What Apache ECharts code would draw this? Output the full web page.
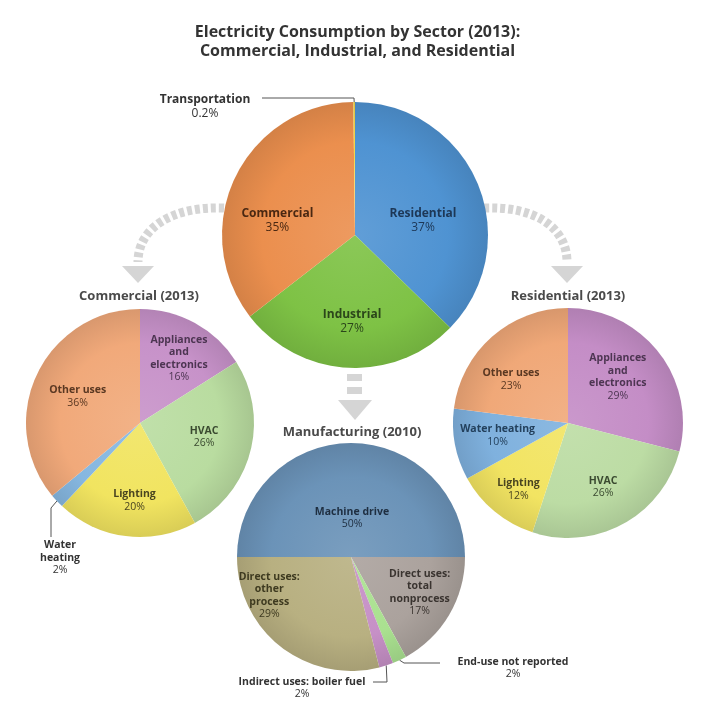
<!DOCTYPE html>
<html><head><meta charset="utf-8">
<script src="https://cdn.jsdelivr.net/npm/echarts@6/dist/echarts.min.js"></script>
<style>html,body{margin:0;padding:0;background:#fff}#c{width:715px;height:714px}</style>
</head><body><div id="c"></div>
<script>
// ---------------- data ----------------
const titleText = 'Electricity Consumption by Sector (2013):\nCommercial, Industrial, and Residential';
const mainNames = ['Residential', 'Industrial', 'Commercial', 'Transportation'];
const mainValues = [37, 27, 35, 0.2];
const comTitle = 'Commercial (2013)';
const comNames = ['Appliances\nand\nelectronics', 'HVAC', 'Lighting', 'Water\nheating', 'Other uses'];
const comValues = [16, 26, 20, 2, 36];
const resTitle = 'Residential (2013)';
const resNames = ['Appliances\nand\nelectronics', 'HVAC', 'Lighting', 'Water heating', 'Other uses'];
const resValues = [29, 26, 12, 10, 23];
const mfgTitle = 'Manufacturing (2010)';
const mfgNames = ['Machine drive', 'Direct uses:\ntotal\nnonprocess', 'End-use not reported', 'Indirect uses: boiler fuel', 'Direct uses:\nother\nprocess'];
const mfgValues = [50, 17, 2, 2, 29];

// ---------------- styles ----------------
const FONT = '"Open Sans", Lato, sans-serif';
const mainColors = ['#4f93d2', '#7ec245', '#eb8f4e', '#f3d64a'];
const mainText = ['#1d3756', '#2b461a', '#4a2812', '#333'];
const comColors = ['#c792c9', '#b9dca0', '#f1e460', '#86b7e0', '#f1a97a'];
const comText = ['#4d3552', '#3a4a30', '#4a4520', '#333', '#5a3822'];
const resColors = ['#c48dc6', '#bcdca4', '#f2e462', '#7fb1de', '#f0a878'];
const resText = ['#4d3552', '#3a4a30', '#4a4520', '#23405c', '#5a3822'];
const mfgColors = ['#6b93b8', '#aba29d', '#aae190', '#c690c6', '#b8b081'];
const mfgText = ['#1e2e40', '#3a3430', '#333', '#333', '#3e3a20'];

function shade(hex, f) {
  const n = parseInt(hex.slice(1), 16);
  let r = n >> 16, g = (n >> 8) & 255, b = n & 255;
  const t = f < 0 ? 0 : 255, p = Math.abs(f);
  r = Math.round((t - r) * p + r); g = Math.round((t - g) * p + g); b = Math.round((t - b) * p + b);
  return 'rgb(' + r + ',' + g + ',' + b + ')';
}
function grad(c, cx, cy, R) {
  return { type: 'radial', x: cx, y: cy, r: R, global: true,
    colorStops: [{ offset: 0, color: shade(c, 0.1) }, { offset: 0.7, color: c }, { offset: 1, color: shade(c, -0.1) }] };
}

function pieSeries(cfg) {
  const { names, values, colors, textColors, cx, cy, R, startAngle, nudges, outside, fs } = cfg;
  const total = values.reduce((a, b) => a + b, 0);
  let cum = 0;
  const mids = values.map(v => { const m = cum + v / 2; cum += v; return startAngle - m / total * 360; });
  const edge = i => {
    const a = mids[i] * Math.PI / 180;
    return [cx + R * Math.cos(a), cy - R * Math.sin(a)];
  };
  const rich = {
    n: { fontFamily: FONT, fontWeight: 'bold', fontSize: fs, lineHeight: fs + 2 },
    p: { fontFamily: FONT, fontWeight: 'normal', fontSize: fs, lineHeight: fs + 2 }
  };
  return {
    type: 'pie', center: [cx, cy], radius: R, startAngle: startAngle, clockwise: true,
    avoidLabelOverlap: false, animation: false, minShowLabelAngle: 0, silent: true,
    data: names.map((n, i) => ({
      name: n, value: values[i],
      itemStyle: { color: grad(colors[i], cx, cy, R) },
      label: outside[i]
        ? { position: 'outside', color: '#333', rich: rich }
        : { position: 'inside', color: textColors[i], rich: rich },
      labelLine: { show: !!outside[i], length: 6, length2: 6, smooth: false, lineStyle: { color: '#555', width: 1 } }
    })),
    label: {
      show: true, fontFamily: FONT, fontSize: fs,
      formatter: p => p.name.split('\n').map(s => '{n|' + s + '}').join('\n') + '\n{p|' + p.value + '%}'
    },
    labelLayout: function (p) {
      const i = p.dataIndex;
      if (outside[i]) {
        const o = outside[i];
        return { x: o.x, y: o.y, align: 'center', verticalAlign: 'middle',
          labelLinePoints: [edge(i)].concat(o.route) };
      }
      const r = p.labelRect, d = nudges[i] || [0, 0];
      return { x: r.x + r.width / 2 + d[0], y: r.y + r.height / 2 + d[1], align: 'center', verticalAlign: 'middle' };
    },
    itemStyle: { borderWidth: 0 }
  };
}

const series = [
  pieSeries({ names: mainNames, values: mainValues, colors: mainColors, textColors: mainText,
    cx: 355, cy: 235, R: 133, startAngle: 90, fs: 12,
    nudges: [[4, 13], [1, 17], [-15, 16]],
    outside: [null, null, null, { x: 205, y: 107, route: [[354, 98], [262, 98]] }] }),
  pieSeries({ names: comNames, values: comValues, colors: comColors, textColors: comText,
    cx: 140, cy: 423, R: 114, startAngle: 90, fs: 10.5,
    nudges: [[10, -12], [6, -1], [2, 18], null, [-8, -1]],
    outside: [null, null, null, { x: 60, y: 558, route: [[51, 508], [51, 537]] }, null] }),
  pieSeries({ names: resNames, values: resValues, colors: resColors, textColors: resText,
    cx: 568, cy: 423, R: 115, startAngle: 90, fs: 10.5,
    nudges: [[2, -9], [6, 11], [-11, 20], [-11, 1], [-17, 2]],
    outside: [null, null, null, null, null] }),
  pieSeries({ names: mfgNames, values: mfgValues, colors: mfgColors, textColors: mfgText,
    cx: 351, cy: 557, R: 114, startAngle: 180, fs: 10.5,
    nudges: [[1, 21], [17, 5], null, null, [-45, -9]],
    outside: [null, null, { x: 513, y: 668, route: [[404, 663], [440, 663]] },
      { x: 302, y: 688, route: [[387, 682], [373, 682]] }, null] })
];

const ARROW = '#d5d5d5';
const subTitle = (t, x, y) => ({ type: 'text', x: x, y: y, z: 10,
  style: { text: t, fill: '#4a4a4a', font: 'bold 13px ' + FONT, textAlign: 'center', textVerticalAlign: 'middle' } });

const option = {
  backgroundColor: '#fff',
  title: { text: titleText, left: 'center', top: 18,
    textStyle: { fontFamily: FONT, fontWeight: 'bold', fontSize: 16, lineHeight: 19, color: '#333' } },
  graphic: [
    { type: 'bezierCurve', z: -1, shape: { x1: 224, y1: 208, cpx1: 172, cpy1: 206, cpx2: 138, cpy2: 228, x2: 138, y2: 262 },
      style: { stroke: ARROW, lineWidth: 9, lineDash: [5, 3], fill: null } },
    { type: 'polygon', z: -1, shape: { points: [[122, 266], [154, 266], [138, 283]] }, style: { fill: ARROW } },
    { type: 'bezierCurve', z: -1, shape: { x1: 484, y1: 208, cpx1: 536, cpy1: 206, cpx2: 567, cpy2: 228, x2: 567, y2: 262 },
      style: { stroke: ARROW, lineWidth: 9, lineDash: [5, 3], fill: null } },
    { type: 'polygon', z: -1, shape: { points: [[551, 266], [583, 266], [567, 283]] }, style: { fill: ARROW } },
    { type: 'rect', z: -1, shape: { x: 347, y: 374, width: 15, height: 7 }, style: { fill: ARROW } },
    { type: 'rect', z: -1, shape: { x: 347, y: 387, width: 15, height: 7 }, style: { fill: ARROW } },
    { type: 'polygon', z: -1, shape: { points: [[338, 400], [372, 400], [355, 420]] }, style: { fill: ARROW } },
    subTitle(comTitle, 139, 296),
    subTitle(resTitle, 568, 296),
    subTitle(mfgTitle, 352, 432)
  ],
  series: series
};
const chart = echarts.init(document.getElementById('c'), null, { renderer: 'canvas' });
chart.setOption(option);
</script></body></html>
